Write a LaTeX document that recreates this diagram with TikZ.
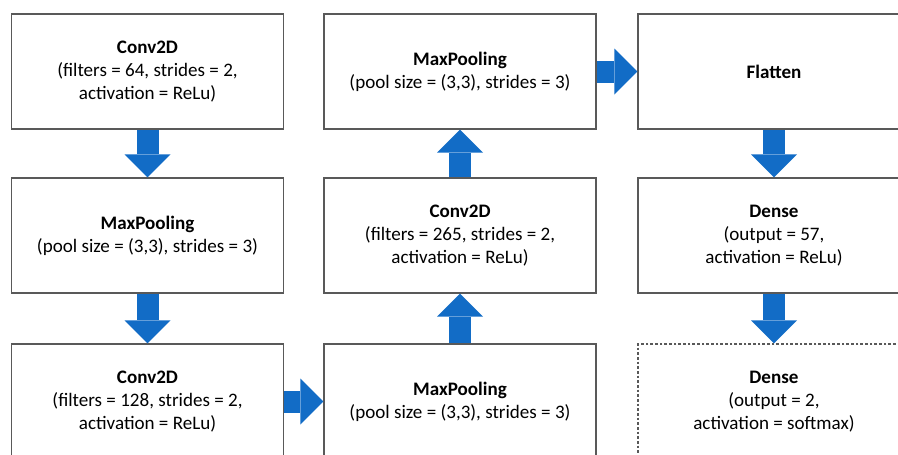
\documentclass[tikz,border=0pt]{standalone}
\usepackage{fontspec}
\setmainfont{Carlito}
\usetikzlibrary{arrows.meta}
\definecolor{arrowblue}{RGB}{18,108,198}
\definecolor{boxline}{RGB}{89,89,89}

\begin{document}
\begin{tikzpicture}[x=0.75pt, y=-0.75pt,
    layer/.style={draw=boxline, line width=0.9pt, fill=white, align=center,
        minimum width=204pt, minimum height=86.25pt, inner sep=0pt,
        font=\fontsize{14.3pt}{17.25pt}\selectfont},
    outlayer/.style={layer, dash pattern=on 2pt off 1.5pt},
    flow/.style={arrowblue, line width=16.5pt,
        -{Triangle[length=17.25pt, width=34.5pt, line width=0pt]}}]

    % Moldura (recorta a última linha)
    \useasboundingbox (0,0) rectangle (898,454);

    % Coluna 1
    \node[layer] (conva) at (147.5,71.5)
        {\textbf{Conv2D}\\(filters = 64, strides = 2,\\activation = ReLu)};
    \node[layer] (poola) at (147.5,235.5)
        {\textbf{MaxPooling}\\(pool size = (3,3), strides = 3)};
    \node[layer] (convb) at (147.5,401.5)
        {\textbf{Conv2D}\\(filters = 128, strides = 2,\\activation = ReLu)};

    % Coluna 2 (de baixo para cima)
    \node[layer] (poolb) at (460,401.5)
        {\textbf{MaxPooling}\\(pool size = (3,3), strides = 3)};
    \node[layer] (convc) at (460,235.5)
        {\textbf{Conv2D}\\(filters = 265, strides = 2,\\activation = ReLu)};
    \node[layer] (poolc) at (460,71.5)
        {\textbf{MaxPooling}\\(pool size = (3,3), strides = 3)};

    % Coluna 3
    \node[layer] (flat) at (774,71.5) {\textbf{Flatten}};
    \node[layer] (densea) at (774,235.5)
        {\textbf{Dense}\\(output = 57,\\activation = ReLu)};
    \node[outlayer] (denseb) at (774,401.5)
        {\textbf{Dense}\\(output = 2,\\activation = softmax)};

    % Setas
    \draw[flow] (conva.south) -- (poola.north);
    \draw[flow] (poola.south) -- (convb.north);
    \draw[flow] (convb.east) -- (poolb.west);
    \draw[flow] (poolb.north) -- (convc.south);
    \draw[flow] (convc.north) -- (poolc.south);
    \draw[flow] (poolc.east) -- (flat.west);
    \draw[flow] (flat.south) -- (densea.north);
    \draw[flow] (densea.south) -- (denseb.north);
\end{tikzpicture}
\end{document}
